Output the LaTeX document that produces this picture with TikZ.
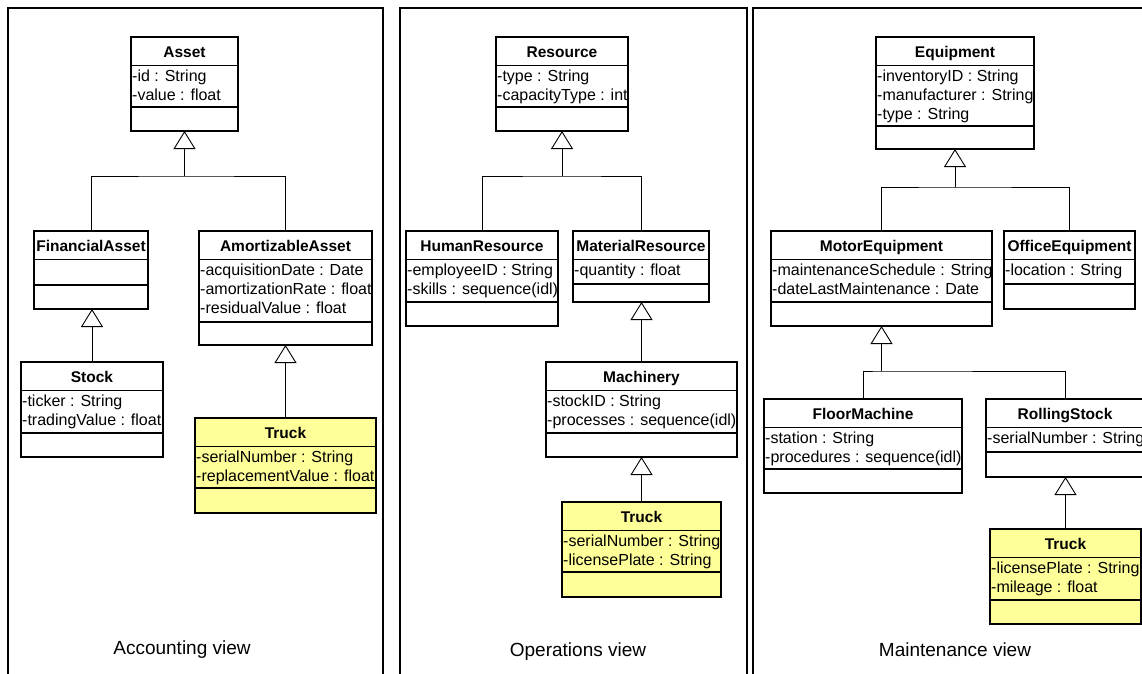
\documentclass[tikz,border=0pt]{standalone}
\usepackage{fontspec}
\setmainfont{Liberation Sans}
\usetikzlibrary{arrows.meta,calc}
\definecolor{trk}{RGB}{255,255,153}
\tikzset{
  clsbox/.style={draw=black,line width=1.2pt,fill=white,inner sep=0pt,outer sep=0pt},
  trkbox/.style={fill=trk},
  clsline/.style={draw=black,line width=1.2pt},
  clstitle/.style={anchor=base,inner sep=0pt,font=\fontsize{15.5}{19}\selectfont\bfseries},
  clsattr/.style={anchor=base west,inner sep=0pt,font=\fontsize{16}{19}\selectfont},
  conn/.style={draw=black,line width=0.9pt},
  inh/.style={conn,-{Triangle[open,width=22pt,length=18pt]}},
  frame/.style={draw=black,line width=1.3pt},
  viewlabel/.style={anchor=base,inner sep=0pt,font=\fontsize{19}{23}\selectfont}
}
% style, name, x1, x2, y1, s2, y2, title, attrs
\newcommand\umlcls[9]{%
  \node[clsbox,#1,minimum width={#4pt-#3pt},minimum height={#7pt-#5pt}] (#2) at ({(#3+#4)/2},{(#5+#7)/2}) {};
  \draw[clsline] ({#3},{#5+28.5}) -- ({#4},{#5+28.5});
  \draw[clsline] ({#3},{#6}) -- ({#4},{#6});
  \node[clstitle] (#2-t) at ({(#3+#4)/2},{#5+20}) {#8};
  \if\relax\detokenize{#9}\relax\else
  \foreach \a [count=\i] in {#9} {\node[clsattr] (#2-a\i) at ({#3+1},{#5+28.5+16+19*(\i-1)}) {\a};}
  \fi
}
\begin{document}
\begin{tikzpicture}[x=1pt,y=-1pt]
\useasboundingbox (0,0) rectangle (1142,673);
\clip (0,0) rectangle (1142,673);
% frames
\draw[frame] (8,690) -- (8,8) -- (383,8) -- (383,690);
\draw[frame] (400,690) -- (400,8) -- (747,8) -- (747,690);
\draw[frame] (753,690) -- (753,8) -- (1160,8) -- (1160,690);

% Panel 1
\umlcls{}{asset}{131}{238}{37}{107}{131}{Asset}{{-id : String},{-value : float}}
\umlcls{}{finasset}{34}{148}{231}{285}{309}{FinancialAsset}{}
\umlcls{}{amort}{199}{372}{231}{322}{345}{AmortizableAsset}{{-acquisitionDate : Date},{-amortizationRate : float},{-residualValue : float}}
\umlcls{}{stock}{21}{163}{362}{433}{457}{Stock}{{-ticker : String},{-tradingValue : float}}
\umlcls{trkbox}{truckA}{195}{376}{418}{488}{513}{Truck}{{-serialNumber : String},{-replacementValue : float}}
\coordinate (j1) at ($(asset.south)+(0,45)$);
\draw[conn] (finasset.north) |- (j1) -| (amort.north);
\draw[inh] (j1) -- (asset.south);
\draw[inh] (stock.north) -- (stock.north |- finasset.south);
\draw[inh] (truckA.north) -- (truckA.north |- amort.south);
\node[viewlabel] (lblA) at (182,654) {Accounting view};

% Panel 2
\umlcls{}{resource}{496}{628}{37}{107}{131}{Resource}{{-type : String},{-capacityType : int}}
\umlcls{}{human}{406}{558}{231}{302}{326}{HumanResource}{{-employeeID : String},{-skills : sequence(idl)}}
\umlcls{}{material}{573}{709}{231}{284}{302}{MaterialResource}{{-quantity : float}}
\umlcls{}{machinery}{546}{737}{362}{433}{457}{Machinery}{{-stockID : String},{-processes : sequence(idl)}}
\umlcls{trkbox}{truckB}{562}{721}{502}{572}{597}{Truck}{{-serialNumber : String},{-licensePlate : String}}
\coordinate (j2) at ($(resource.south)+(0,45)$);
\draw[conn] (human.north) |- (j2) -| (material.north);
\draw[inh] (j2) -- (resource.south);
\draw[inh] (machinery.north) -- (machinery.north |- material.south);
\draw[inh] (truckB.north) -- (truckB.north |- machinery.south);
\node[viewlabel] (lblB) at (578,656) {Operations view};

% Panel 3
\umlcls{}{equipment}{876}{1034}{37}{126}{149}{Equipment}{{-inventoryID : String},{-manufacturer : String},{-type : String}}
\umlcls{}{motor}{771}{992}{231}{302}{326}{MotorEquipment}{{-maintenanceSchedule : String},{-dateLastMaintenance : Date}}
\umlcls{}{office}{1004}{1135}{231}{284}{309}{OfficeEquipment}{{-location : String}}
\umlcls{}{floor}{764}{962}{399}{469}{493}{FloorMachine}{{-station : String},{-procedures : sequence(idl)}}
\umlcls{}{rolling}{986}{1144}{399}{452}{477}{RollingStock}{{-serialNumber : String}}
\umlcls{trkbox}{truckC}{990}{1141}{529}{600}{624}{Truck}{{-licensePlate : String},{-mileage : float}}
\coordinate (j3) at ($(equipment.south)+(0,38)$);
\draw[conn] (motor.north) |- (j3) -| (office.north);
\draw[inh] (j3) -- (equipment.south);
\coordinate (j4) at ($(motor.south)+(0,45)$);
\draw[conn] (floor.north) |- (j4) -| (rolling.north);
\draw[inh] (j4) -- (motor.south);
\draw[inh] (truckC.north) -- (truckC.north |- rolling.south);
\node[viewlabel] (lblC) at (955,656) {Maintenance view};
\end{tikzpicture}
\end{document}
